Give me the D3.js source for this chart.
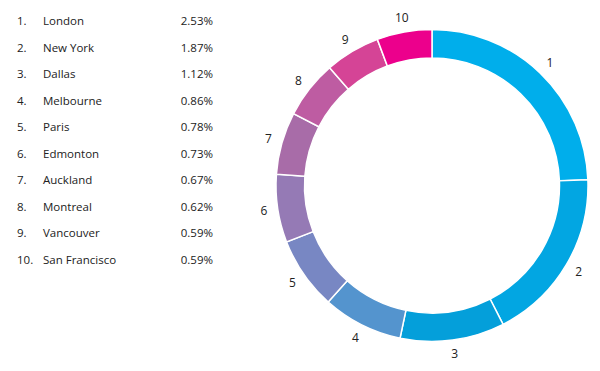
<!DOCTYPE html>
<html>
<head>
<meta charset="utf-8">
<script src="https://cdn.jsdelivr.net/npm/d3@7"></script>
<style>
  body { margin: 0; background: #fff; }
  text { font-family: "Open Sans", sans-serif; fill: #222; }
</style>
</head>
<body>
<svg width="600" height="371"></svg>
<script>
const cities = ["London", "New York", "Dallas", "Melbourne", "Paris", "Edmonton", "Auckland", "Montreal", "Vancouver", "San Francisco"];
const shares = [2.53, 1.87, 1.12, 0.86, 0.78, 0.73, 0.67, 0.62, 0.59, 0.59];
const colors = ["#00aeeb", "#02a6e2", "#049fda", "#5494ce", "#7887c3", "#957ab5", "#a86ca8", "#be5ca2", "#d54496", "#ec008c"];

const svg = d3.select("svg");

const data = cities.map((c, i) => ({ rank: i + 1, city: c, value: shares[i], color: colors[i] }));

// Ranked list on the left
const rowY = d3.scalePoint()
  .domain(data.map(d => d.rank))
  .range([21, 260]);

const rows = svg.append("g").selectAll("g.row")
  .data(data)
  .enter()
  .append("g")
  .attr("class", "row")
  .attr("transform", d => `translate(0,${rowY(d.rank)})`);

rows.append("text")
  .attr("x", 17)
  .attr("dy", "0.35em")
  .attr("font-size", "11.5px")
  .text(d => d.rank + ".");

rows.append("text")
  .attr("x", 43)
  .attr("dy", "0.35em")
  .attr("font-size", "11.5px")
  .text(d => d.city);

rows.append("text")
  .attr("x", 213)
  .attr("dy", "0.35em")
  .attr("text-anchor", "end")
  .attr("font-size", "11.5px")
  .text(d => d.value.toFixed(2) + "%");

// Donut
const cx = 432, cy = 185.5;
const outerR = 156, innerR = 127.5, labelR = 170;

const pie = d3.pie().sort(null).value(d => d.value);
const arc = d3.arc().innerRadius(innerR).outerRadius(outerR);
const labelArc = d3.arc().innerRadius(labelR).outerRadius(labelR);

const donut = svg.append("g")
  .attr("transform", `translate(${cx},${cy})`);

const arcs = pie(data);

donut.selectAll("path")
  .data(arcs)
  .enter()
  .append("path")
  .attr("d", arc)
  .attr("fill", d => d.data.color)
  .attr("stroke", "#fff")
  .attr("stroke-width", 1.5);

donut.selectAll("text")
  .data(arcs)
  .enter()
  .append("text")
  .attr("transform", d => `translate(${labelArc.centroid(d)})`)
  .attr("text-anchor", "middle")
  .attr("dy", "0.35em")
  .attr("font-size", "12px")
  .text(d => d.data.rank);
</script>
</body>
</html>
